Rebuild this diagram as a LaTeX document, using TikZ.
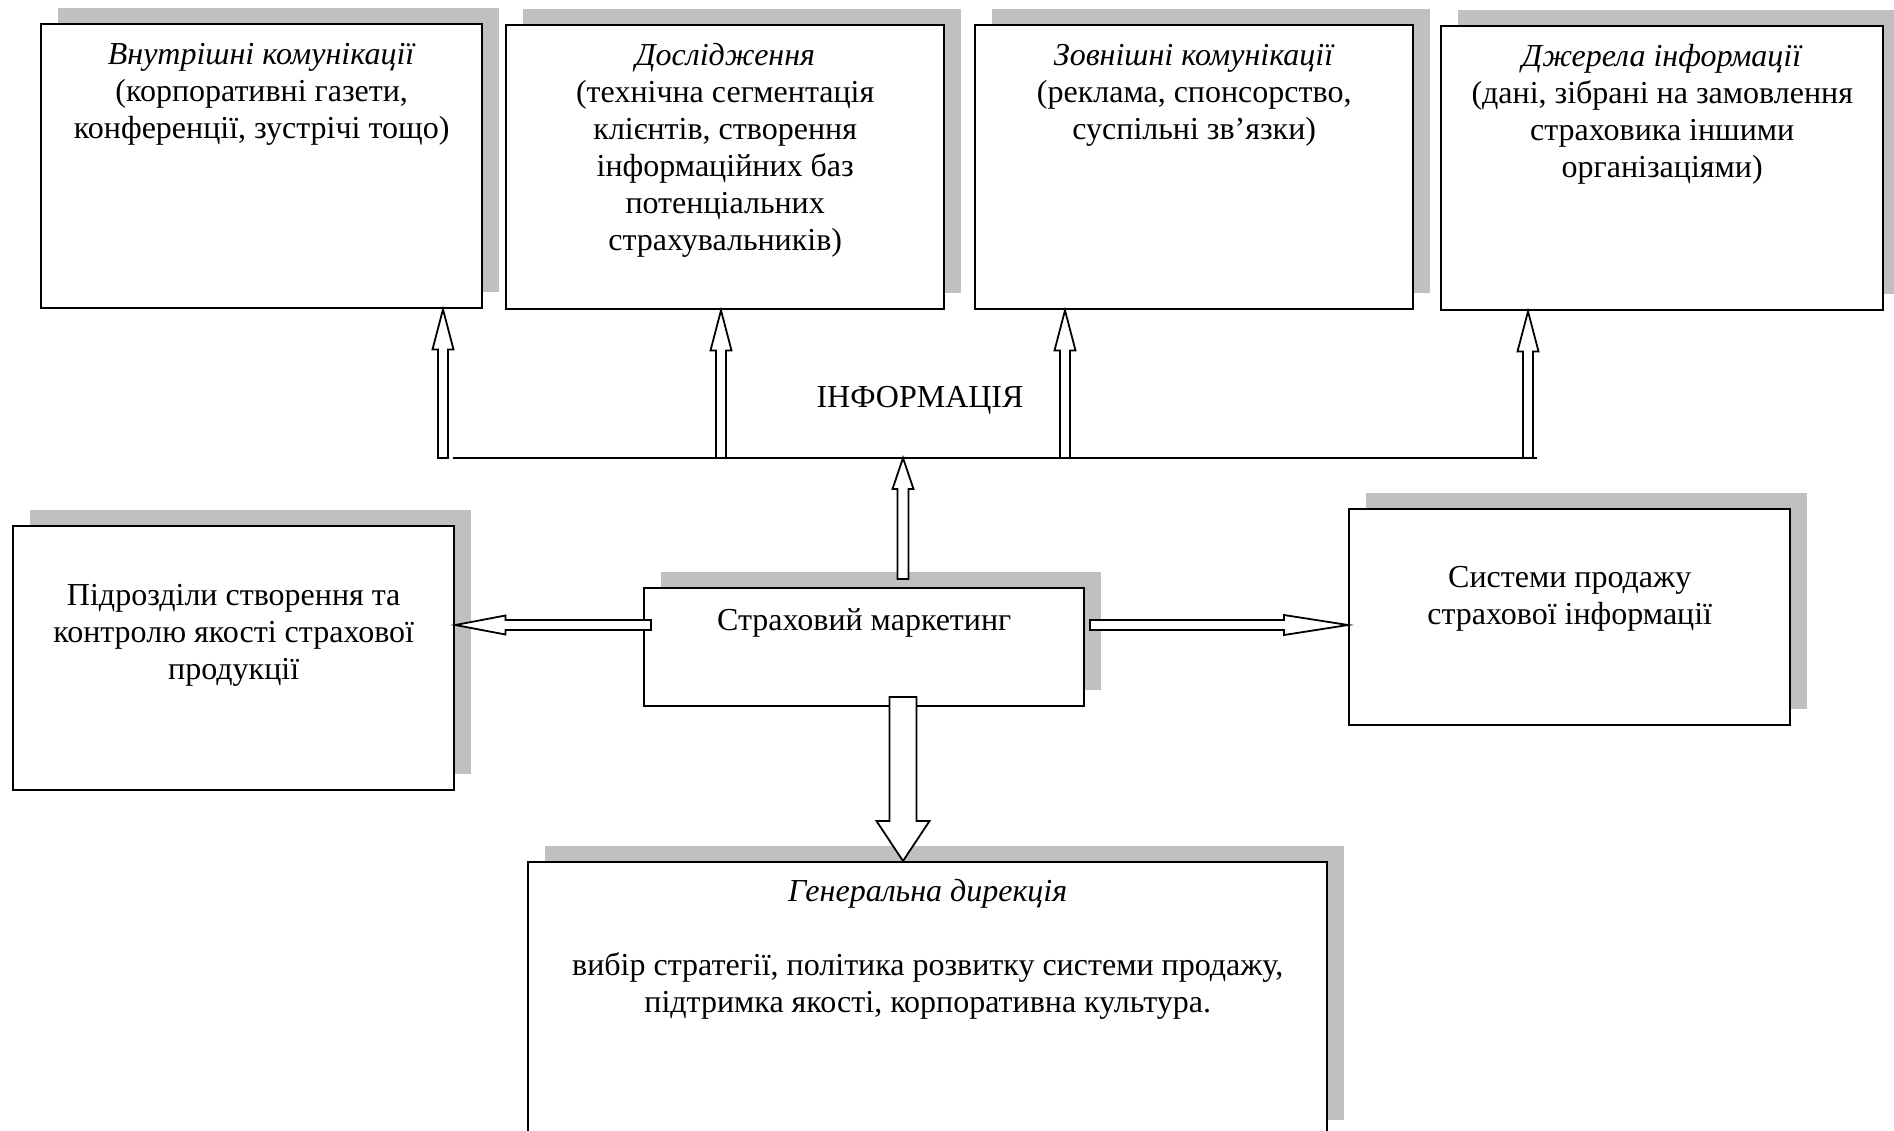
\documentclass[tikz,border=0pt]{standalone}
\usepackage{fontspec}
\setmainfont{Liberation Serif}
\usetikzlibrary{calc,shadows}
\definecolor{shade}{RGB}{192,192,192}
% text block at the top of a box: width, height, top gap, lines
\newcommand\cell[4]{\parbox[t][#2][t]{#1}{\centering\vspace*{#3}\strut #4}}
% hollow block arrow: from, to, shaft half width, head half width, head length
\newcommand\fatarrow[5]{%
  \coordinate (ah) at ($(#2)!#5!(#1)$);
  \draw[blockarrow] ($(#1)!#3!90:(#2)$) -- ($(ah)!#3!90:(#2)$)
    -- ($(ah)!#4!90:(#2)$) -- (#2) -- ($(ah)!#4!-90:(#2)$)
    -- ($(ah)!#3!-90:(#2)$) -- ($(#1)!#3!-90:(#2)$) -- cycle;}
\tikzset{
  box/.style={draw, line width=1.2pt, fill=white, inner sep=0pt, anchor=north west,
    general shadow={fill=shade, shadow xshift=8.5pt, shadow yshift=8pt}},
  blockarrow/.style={draw, fill=white, line width=0.9pt},
  busline/.style={line width=1pt}
}
\begin{document}
\begin{tikzpicture}[font=\fontsize{16pt}{18.5pt}\selectfont]
   \begin{scope}[x=0.5pt,y=-0.5pt]
   \useasboundingbox (0,0) rectangle (1894,1130);
   \clip (0,0) rectangle (1894,1130);
   % top row
   \node[box] (b1) at (40,23) {\cell{220.5pt}{142pt}{7pt}{\textit{Внутрішні комунікації}\\
     (корпоративні газети,\\конференції, зустрічі тощо)}};
   \node[box] (b2) at (505,24) {\cell{219pt}{142pt}{7pt}{\textit{Дослідження}\\
     (технічна сегментація\\клієнтів, створення\\інформаційних баз\\потенціальних\\страхувальників)}};
   \node[box] (b3) at (974,24) {\cell{219pt}{142pt}{7pt}{\textit{Зовнішні комунікації}\\
     (реклама, спонсорство,\\суспільні зв’язки)}};
   \node[box] (b4) at (1440,25) {\cell{221pt}{142pt}{7pt}{\textit{Джерела інформації}\\
     (дані, зібрані на замовлення\\страховика іншими\\організаціями)}};
   % middle row
   \node[box] (cm) at (643,587) {\cell{220pt}{59pt}{8pt}{Страховий маркетинг}};
   \node[box] (lb) at (12,525) {\cell{220.5pt}{132pt}{26.5pt}{Підрозділи створення та\\
     контролю якості страхової\\продукції}};
   \node[box] (rb) at (1348,508) {\cell{220.5pt}{108pt}{26pt}{Системи продажу\\страхової інформації}};
   % bottom
   \node[box] (gd) at (527,861) {\cell{399.5pt}{137pt}{6.5pt}{\textit{Генеральна дирекція}\\[18.5pt]
     вибір стратегії, політика розвитку системи продажу,\\підтримка якості, корпоративна культура.}};
   \node[anchor=base] (info) at (920,407) {ІНФОРМАЦІЯ};
   % bus
   \coordinate (busL) at (453,458);
   \coordinate (busR) at (1537,458);
   \draw[busline] (busL) -- (busR);
   \coordinate (f1) at (443,458);
   \coordinate (f2) at (721,458);
   \coordinate (f3) at (1065,458);
   \coordinate (f4) at (1528,458);
   \fatarrow{f1}{f1 |- b1.south}{2.5pt}{5.25pt}{20pt}
   \fatarrow{f2}{f2 |- b2.south}{2.5pt}{5.25pt}{20pt}
   \fatarrow{f3}{f3 |- b3.south}{2.5pt}{5.25pt}{20pt}
   \fatarrow{f4}{f4 |- b4.south}{2.5pt}{5.25pt}{20pt}
   % from the marketing box
   \coordinate (up0) at (903,579);
   \coordinate (l0) at (651,625);
   \coordinate (r0) at (1090,625);
   \coordinate (d0) at (903,697);
   \fatarrow{up0}{up0 |- busL}{2.75pt}{5.25pt}{15.5pt}
   \fatarrow{l0}{l0 -| lb.east}{2.5pt}{4.75pt}{25pt}
   \fatarrow{r0}{r0 -| rb.west}{2.5pt}{5pt}{32pt}
   \fatarrow{d0}{d0 |- gd.north}{6.75pt}{13.25pt}{20pt}
   \end{scope}
 \end{tikzpicture}
\end{document}
